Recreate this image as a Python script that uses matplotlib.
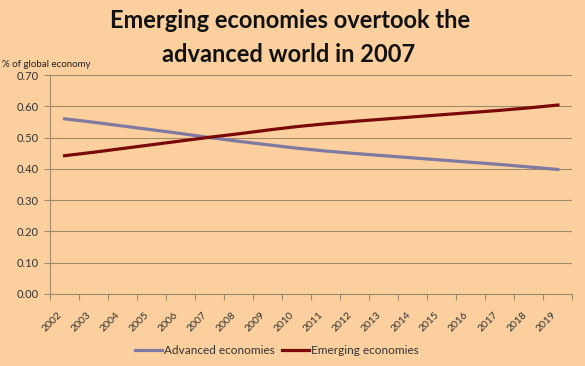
import numpy as np
import matplotlib.pyplot as plt
from matplotlib.transforms import ScaledTranslation

YEARS = [str(y) for y in range(2002, 2020)]
ADVANCED = [0.560, 0.549, 0.537, 0.525, 0.513, 0.500, 0.488, 0.477, 0.466,
            0.457, 0.449, 0.442, 0.435, 0.428, 0.421, 0.414, 0.406, 0.398]
EMERGING = [0.442, 0.453, 0.465, 0.477, 0.489, 0.501, 0.512, 0.524, 0.535,
            0.544, 0.552, 0.559, 0.566, 0.573, 0.580, 0.587, 0.595, 0.604]

BG = '#fbd09e'
GRID = '#a08a6c'
FONT = ['Lato', 'DejaVu Sans']

plt.rcParams['font.family'] = FONT

fig = plt.figure(figsize=(5.85, 3.66), dpi=100, facecolor=BG)
ax = fig.add_axes([0.0855, 0.197, 0.893, 0.598], facecolor=BG)

x = np.arange(len(YEARS))
ax.plot(x, ADVANCED, color='#7e7aa2', lw=2.3, label='Advanced economies')
ax.plot(x, EMERGING, color='#7a0a0a', lw=2.3, label='Emerging economies')

ax.set_xlim(-0.5, len(YEARS) - 0.5)
ax.set_ylim(0, 0.70)
ax.set_yticks(np.arange(0, 0.71, 0.1))
ax.set_yticklabels([f"{v:.2f}" for v in np.arange(0, 0.71, 0.1)])
ax.yaxis.grid(True, color=GRID, lw=0.8)
ax.set_axisbelow(True)

# tick marks between categories, labels at category centres
ax.set_xticks(np.arange(-0.5, len(YEARS)), minor=False)
ax.set_xticklabels([])
ax.set_xticks(x, minor=True)
ax.set_xticklabels(YEARS, minor=True, rotation=45, ha='right',
                   rotation_mode='anchor', fontsize=7.5, color='#333333')
ax.tick_params(axis='x', which='major', length=4, color=GRID, direction='out')
ax.tick_params(axis='x', which='minor', length=0, pad=6)
ax.tick_params(axis='y', length=4, color=GRID, labelsize=8,
               labelcolor='#333333', pad=4)
off = ScaledTranslation(-5 / 72, -6 / 72, fig.dpi_scale_trans)
for lab in ax.get_xticklabels(minor=True):
    lab.set_transform(lab.get_transform() + off)

for side in ['top', 'right']:
    ax.spines[side].set_visible(False)
for side in ['left', 'bottom']:
    ax.spines[side].set_color(GRID)
    ax.spines[side].set_linewidth(0.8)

fig.text(0.496, 0.9235, "Emerging economies overtook the", ha='center',
         va='baseline', fontsize=17, fontweight='bold', color='#111111')
fig.text(0.493, 0.830, "advanced world in 2007", ha='center',
         va='baseline', fontsize=17, fontweight='bold', color='#111111')
fig.text(0.003, 0.825, "% of global economy", ha='left', va='center',
         fontsize=7, color='#222222')

fig.legend(loc='center', bbox_to_anchor=(0.473, 0.041), ncol=2,
           frameon=False, fontsize=8.5, handlelength=2.3, handletextpad=0.15,
           columnspacing=0.6, labelcolor='#333333')

fig.savefig('out.png', dpi=100, facecolor=BG)
